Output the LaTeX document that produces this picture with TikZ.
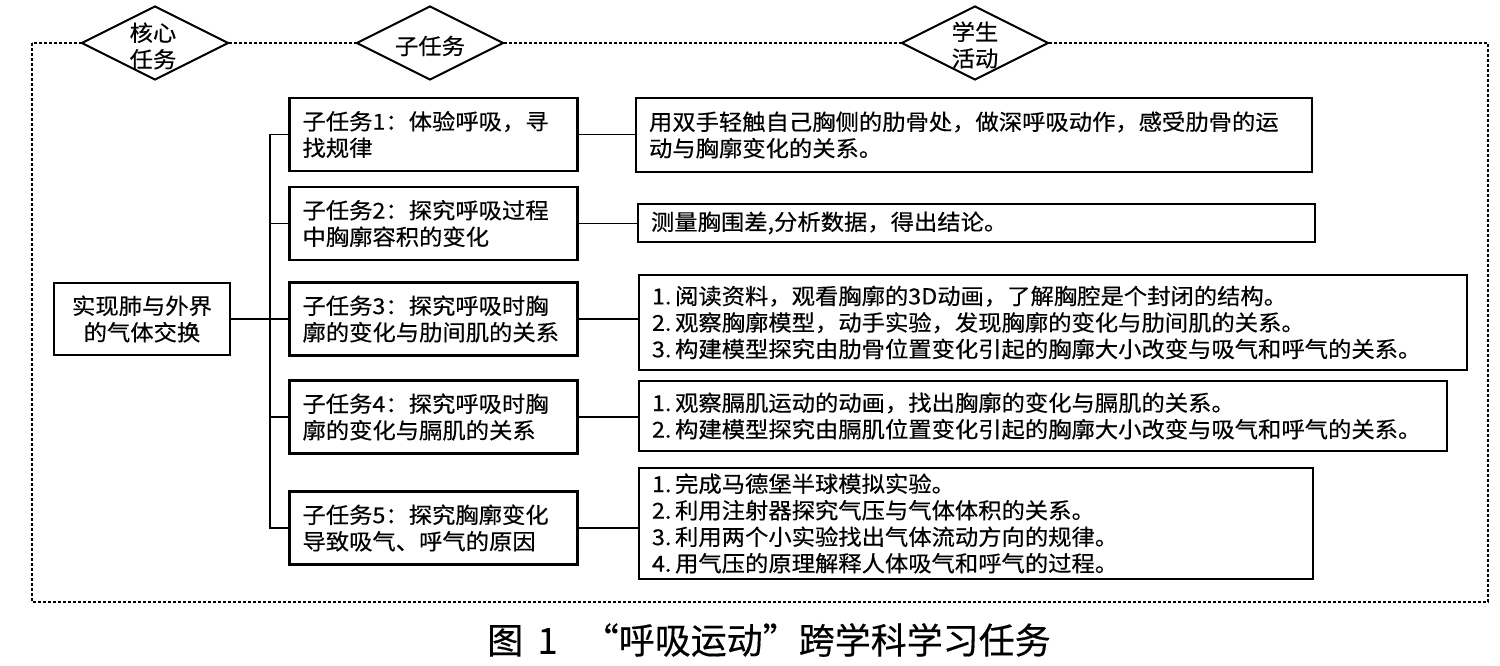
\documentclass[tikz,border=0pt]{standalone}
\usepackage{fontspec}
\setmainfont{Noto Sans CJK SC}
\newfontfamily\bodyf[FakeStretch=1.06,FakeBold=0.4]{Noto Sans CJK SC}
\newfontfamily\capf[FakeBold=0.3]{Noto Sans CJK SC}
\usetikzlibrary{shapes.geometric}
\begin{document}
\begin{tikzpicture}[x=0.5pt,y=-0.5pt,
  txt/.style={font=\bodyf\fontsize{11}{13.25}\selectfont},
  sbox/.style={draw, line width=1.1pt, txt, inner xsep=6.5pt, inner ysep=0pt, align=left, text width=131pt, minimum height=36.5pt},
  abox/.style={draw, line width=1.1pt, txt, inner xsep=6.5pt, inner ysep=0pt, align=left},
  dia/.style={diamond, draw, fill=white, line width=1pt, inner sep=0pt, minimum width=73.5pt, minimum height=37pt},
  conn/.style={line width=0.9pt},
  frm/.style={line width=0.7pt, dash pattern=on 1.6pt off 0.9pt}]
\useasboundingbox (0,0) rectangle (1500,665);
\fill[white] (0,0) rectangle (1500,665);
% dashed frame
\draw[frm] (32,43) rectangle (1488,602);
% header diamonds
\node[dia] (d1) at (155,43) {};
\node[txt, align=center] (d1t) at (153,46) {核心\\任务};
\node[dia] (d2) at (430,43) {};
\node[txt] (d2t) at (430,46) {子任务};
\node[dia] (d3) at (975,43) {};
\node[txt, align=center] (d3t) at (975,45) {学生\\活动};
% main task
\node[draw, line width=1.1pt, txt, align=center, minimum width=88pt, minimum height=36pt, inner sep=0pt] (m) at (142,319) {实现肺与外界\\的气体交换};
% sub tasks
\node[sbox] (s1) at (433.5,134.5) {子任务1：体验呼吸，寻\\找规律};
\node[sbox] (s2) at (433.5,223.5) {子任务2：探究呼吸过程\\中胸廓容积的变化};
\node[sbox] (s3) at (433.5,319) {子任务3：探究呼吸时胸\\廓的变化与肋间肌的关系};
\node[sbox] (s4) at (433.5,417) {子任务4：探究呼吸时胸\\廓的变化与膈肌的关系};
\node[sbox] (s5) at (433.5,528) {子任务5：探究胸廓变化\\导致吸气、呼气的原因};
% activities
\node[abox, text width=325pt, minimum height=37pt] (a1) at (974,135) {用双手轻触自己胸侧的肋骨处，做深呼吸动作，感受肋骨的运\\动与胸廓变化的关系。};
\node[abox, text width=325.5pt, minimum height=19pt] (a2) at (976.5,223) {测量胸围差,分析数据，得出结论。};
\node[abox, text width=401pt, minimum height=47.5pt] (a3) at (1053,322.5) {1.\,阅读资料，观看胸廓的3D动画，了解胸腔是个封闭的结构。\\2.\,观察胸廓模型，动手实验，发现胸廓的变化与肋间肌的关系。\\3.\,构建模型探究由肋骨位置变化引起的胸廓大小改变与吸气和呼气的关系。};
\node[abox, text width=391pt, minimum height=35pt] (a4) at (1043,416) {1.\,观察膈肌运动的动画，找出胸廓的变化与膈肌的关系。\\2.\,构建模型探究由膈肌位置变化引起的胸廓大小改变与吸气和呼气的关系。};
\node[abox, text width=324pt, minimum height=55.5pt] (a5) at (976,523.5) {1.\,完成马德堡半球模拟实验。\\2.\,利用注射器探究气压与气体体积的关系。\\3.\,利用两个小实验找出气体流动方向的规律。\\4.\,用气压的原理解释人体吸气和呼气的过程。};
% connectors
\coordinate (bus) at (270,319);
\draw[conn] (m.east) -- (s3.west);
\draw[conn] (s1.west) -- (s1.west -| bus) -- (s5.west -| bus) -- (s5.west);
\draw[conn] (s2.west) -- (s2.west -| bus);
\draw[conn] (s4.west) -- (s4.west -| bus);
\draw[conn] (s1.east) -- (s1.east -| a1.west);
\draw[conn] (s2.east) -- (s2.east -| a2.west);
\draw[conn] (s3.east) -- (s3.east -| a3.west);
\draw[conn] (s4.east) -- (s4.east -| a4.west);
\draw[conn] (s5.east) -- (s5.east -| a5.west);
% caption
\node[font=\capf\fontsize{18}{20}\selectfont] (cap) at (769,640) {图\hspace{0.4em}1\hspace{0.7em}“呼吸运动”跨学科学习任务};
\end{tikzpicture}
\end{document}
